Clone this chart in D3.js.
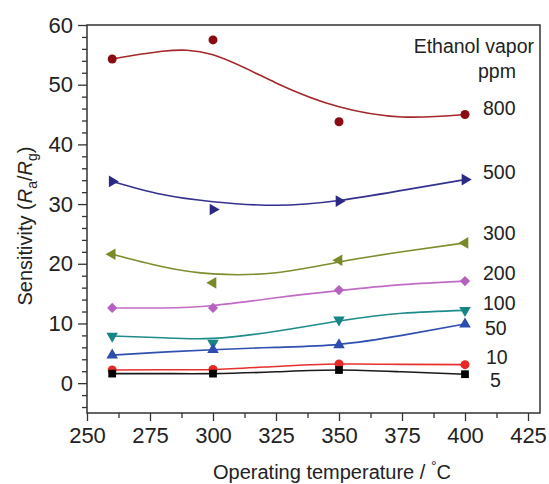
<!DOCTYPE html>
<meta charset="utf-8">
<style>
body{margin:0;background:#fff;font-family:"Liberation Sans",Arial,sans-serif;color:#222;}
.frame{fill:none;stroke:#333;stroke-width:1.5;}
.axis path{display:none;}
.axis line{stroke:#333;stroke-width:1.3;}
.axis text{font-size:22px;fill:#222;font-family:"Liberation Sans",Arial,sans-serif;}
.fit{fill:none;stroke-width:1.6;}
.lbl{font-size:19.5px;fill:#222;}
.title{font-size:20px;fill:#222;}
</style>
<svg id="chart"></svg>
<script src="https://cdn.jsdelivr.net/npm/d3@7"></script>
<script>

// measured temperatures (degC)
var temps = [260, 300, 350, 400];
// ethanol concentrations (ppm), one series each
var concs = ["800", "500", "300", "200", "100", "50", "10", "5"];

var s800 = [54.3, 57.5, 43.8, 45.0];
var s500 = [33.8, 29.1, 30.5, 34.1];
var s300 = [21.6, 16.8, 20.6, 23.5];
var s200 = [12.6, 12.6, 15.6, 17.1];
var s100 = [7.9, 6.7, 10.6, 12.2];
var s50  = [4.7, 5.6, 6.4, 9.9];
var s10  = [2.2, 2.3, 3.2, 3.1];
var s5   = [1.6, 1.6, 2.2, 1.5];

// smoothed fit lines
var fitT = [260, 280, 300, 325, 350, 375, 400];
var f800 = [54.3, 55.6, 55.0, 50.3, 46.3, 44.6, 45.0];
var f500 = [33.8, 31.6, 30.4, 29.8, 30.6, 32.3, 34.1];
var f300 = [21.6, 19.5, 18.3, 18.5, 20.3, 22.0, 23.5];
var f200 = [12.6, 12.6, 13.0, 14.3, 15.5, 16.5, 17.1];
var f100 = [7.9, 7.6, 7.5, 8.7, 10.4, 11.7, 12.2];
var f50  = [4.7, 5.2, 5.6, 6.0, 6.5, 8.0, 9.9];
var f10  = [2.2, 2.25, 2.3, 2.8, 3.2, 3.15, 3.1];
var f5   = [1.6, 1.6, 1.6, 1.9, 2.2, 1.9, 1.5];

var xTicks = [250, 275, 300, 325, 350, 375, 400, 425];
var yTicks = [0, 10, 20, 30, 40, 50, 60];

var series = [s800, s500, s300, s200, s100, s50, s10, s5];
var fits   = [f800, f500, f300, f200, f100, f50, f10, f5];

var lineCol = ["#a3272b", "#34318f", "#7f8d2e", "#c06cc6", "#1f8c8c", "#3050b0", "#e8302c", "#1a1a1a"];
var dotCol  = ["#8a0c12", "#2b2886", "#7b8a28", "#b660c0", "#178585", "#2d4cae", "#e82a26", "#000"];
var shapes  = ["circle", "right", "left", "diamond", "down", "up", "circle", "square"];
// where the ppm labels sit (in y units)
var labelY = [46.1, 35.4, 25.1, 18.4, 13.4, 9.2, 4.4, 0.5];
var labelX = [483, 483, 483, 483, 483, 485, 486, 490];

var W = 549, H = 484;
var margin = {top: 25, right: 9, bottom: 71, left: 87};
var width = W - margin.left - margin.right;
var height = H - margin.top - margin.bottom;

var svg = d3.select("#chart").attr("width", W).attr("height", H);
var g = svg.append("g").attr("transform", "translate(" + margin.left + "," + margin.top + ")");

// axis ends at 425 a little short of the right frame
var x = d3.scaleLinear().domain([250, 425]).range([0, 441]);
var y = d3.scaleLinear().domain([-5, 60]).range([height, 0]);

// minor ticks
g.append("g").attr("class", "axis")
  .attr("transform", "translate(0," + height + ")")
  .call(d3.axisBottom(x).tickValues(d3.range(262.5, 425, 25)).tickSize(5).tickFormat(""));
g.append("g").attr("class", "axis")
  .call(d3.axisLeft(y).tickValues(d3.range(-4, 60, 2).filter(function(v){ return v % 10 !== 0; })).tickSize(5).tickFormat(""));

// major ticks
g.append("g").attr("class", "axis")
  .attr("transform", "translate(0," + height + ")")
  .call(d3.axisBottom(x).tickValues(xTicks).tickSize(8).tickPadding(6));
g.append("g").attr("class", "axis")
  .call(d3.axisLeft(y).tickValues(yTicks).tickSize(9).tickPadding(5));

g.append("rect").attr("class", "frame").attr("width", width).attr("height", height);

var line = d3.line()
  .x(function(d, i){ return x(fitT[i]); })
  .y(function(d){ return y(d); })
  .curve(d3.curveNatural);

fits.forEach(function(f, k){
  g.append("path").attr("class", "fit").attr("d", line(f)).attr("stroke", lineCol[k]);
});

function sym(kind){
  if (kind === "circle") return d3.symbol(d3.symbolCircle, 64)();
  if (kind === "square") return d3.symbol(d3.symbolSquare, 60)();
  if (kind === "diamond") return d3.symbol(d3.symbolSquare, 52)();
  return d3.symbol(d3.symbolTriangle, 58)();
}
var rot = {up: 0, down: 180, right: 90, left: -90, diamond: 45};

series.forEach(function(s, k){
  g.selectAll(".dot" + k).data(s).enter().append("path")
    .attr("d", sym(shapes[k]))
    .attr("fill", dotCol[k])
    .attr("transform", function(d, i){
      return "translate(" + x(temps[i]) + "," + y(d) + ")" + (rot[shapes[k]] !== undefined ? " rotate(" + rot[shapes[k]] + ")" : "");
    });
});

// ppm labels
concs.forEach(function(c, k){
  svg.append("text").attr("class", "lbl")
    .attr("x", labelX[k]).attr("y", margin.top + y(labelY[k]))
    .attr("dy", "0.35em").text(c);
});
svg.append("text").attr("class", "lbl").attr("x", 534).attr("y", 53)
  .attr("text-anchor", "end").text("Ethanol vapor");
svg.append("text").attr("class", "lbl").attr("x", 478).attr("y", 78).text("ppm");

// axis titles
var xt = svg.append("text").attr("class", "title")
  .attr("x", 332).attr("y", 479).attr("text-anchor", "middle");
xt.append("tspan").text("Operating temperature / ");
xt.append("tspan").attr("dy", -8).attr("font-size", 14).text("\u00b0");
xt.append("tspan").attr("dy", 8).text("C");

var yt = svg.append("text").attr("class", "title")
  .attr("transform", "translate(32,226) rotate(-90)")
  .attr("text-anchor", "middle").attr("font-size", 21);
yt.append("tspan").text("Sensitivity (");
yt.append("tspan").attr("font-style", "italic").text("R");
yt.append("tspan").attr("font-size", 14).attr("dy", 5).text("a");
yt.append("tspan").attr("dy", -5).text("/");
yt.append("tspan").attr("font-style", "italic").text("R");
yt.append("tspan").attr("font-size", 14).attr("dy", 5).text("g");
yt.append("tspan").attr("dy", -5).text(")");

</script>
